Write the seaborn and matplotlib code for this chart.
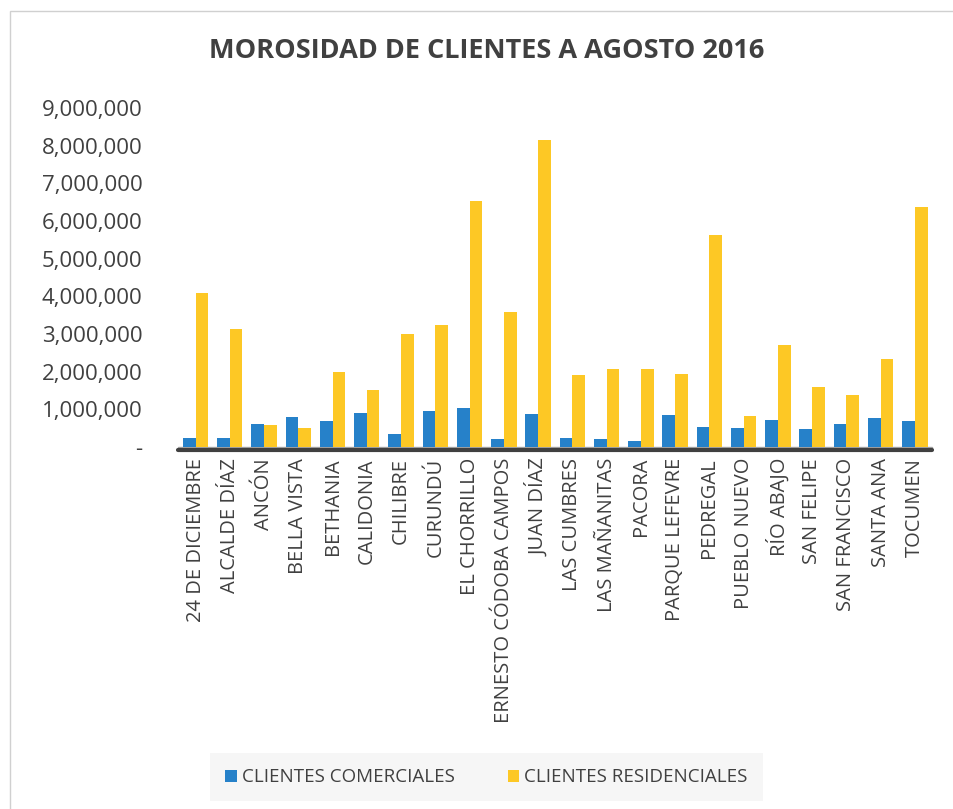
import pandas as pd
import matplotlib
matplotlib.use("Agg")
import matplotlib.pyplot as plt
import seaborn as sns
from matplotlib.ticker import FuncFormatter
from matplotlib.patches import Rectangle

# Data
corregimientos = [
    "24 DE DICIEMBRE", "ALCALDE DÍAZ", "ANCÓN", "BELLA VISTA", "BETHANIA",
    "CALIDONIA", "CHILIBRE", "CURUNDÚ", "EL CHORRILLO", "ERNESTO CÓDOBA CAMPOS",
    "JUAN DÍAZ", "LAS CUMBRES", "LAS MAÑANITAS", "PACORA", "PARQUE LEFEVRE",
    "PEDREGAL", "PUEBLO NUEVO", "RÍO ABAJO", "SAN FELIPE", "SAN FRANCISCO",
    "SANTA ANA", "TOCUMEN",
]
comerciales = [
    250000, 250000, 600000, 800000, 680000,
    900000, 350000, 950000, 1030000, 200000,
    880000, 250000, 200000, 150000, 850000,
    530000, 500000, 720000, 470000, 620000,
    770000, 700000,
]
residenciales = [
    4080000, 3130000, 580000, 500000, 2000000,
    1520000, 3000000, 3230000, 6530000, 3580000,
    8150000, 1900000, 2080000, 2070000, 1930000,
    5620000, 830000, 2700000, 1600000, 1380000,
    2330000, 6380000,
]
series_names = ["CLIENTES COMERCIALES", "CLIENTES RESIDENCIALES"]

df = pd.DataFrame({
    "corregimiento": corregimientos * 2,
    "monto": comerciales + residenciales,
    "serie": [series_names[0]] * len(corregimientos) + [series_names[1]] * len(corregimientos),
})

sns.set_theme(style="white")
plt.rcParams["font.family"] = ["Open Sans", "DejaVu Sans"]
text_color = "#404040"

fig = plt.figure(figsize=(9.54, 8.09), dpi=100)
ax = fig.add_axes([0.187, 0.4475, 0.79, 0.419])

sns.barplot(
    data=df, x="corregimiento", y="monto", hue="serie",
    palette=["#2681c9", "#fdc825"], saturation=1, width=0.74, ax=ax,
    edgecolor="none", legend=True,
)

ax.set_ylim(0, 9000000)
ax.set_xlim(-0.5, len(corregimientos) - 0.5)
ax.set_yticks(range(0, 9000001, 1000000))
ax.yaxis.set_major_formatter(FuncFormatter(lambda v, p: "-" if v == 0 else f"{int(v):,}"))
ax.tick_params(axis="y", labelsize=16, colors=text_color, length=0, pad=26)
ax.tick_params(axis="x", labelsize=14.5, colors=text_color, length=0, pad=8)
plt.setp(ax.get_xticklabels(), rotation=90)
ax.set_xlabel("")
ax.set_ylabel("")
for s in ax.spines.values():
    s.set_visible(False)

# floor of the chart
ax.axhspan(-90000, 0, color="#a6a6a6", clip_on=False, zorder=0)
ax.axhline(-90000, color="#404040", lw=3, clip_on=False)

ax.get_legend().remove()
handles, labels = ax.get_legend_handles_labels()
leg = fig.legend(
    handles, labels, loc="center", bbox_to_anchor=(0.51, 0.039), ncol=2,
    frameon=True, fontsize=13.5, handlelength=0.6, handleheight=0.6,
    columnspacing=2.8, handletextpad=0.3, borderpad=0.8, borderaxespad=0,
)
leg.get_frame().set_facecolor("#f4f4f4")
leg.get_frame().set_edgecolor("none")
leg.get_frame().set_boxstyle("square", pad=0.0)
for t in leg.get_texts():
    t.set_color(text_color)

fig.text(0.51, 0.937, "MOROSIDAD DE CLIENTES A AGOSTO 2016", ha="center", va="center",
         fontsize=19.5, fontweight="bold", color=text_color)

fig.patches.append(Rectangle((0.011, -0.01), 1.0, 0.997, transform=fig.transFigure,
                             fill=False, edgecolor="#d0d0d0", lw=1))

fig.savefig("out.png", dpi=100)
